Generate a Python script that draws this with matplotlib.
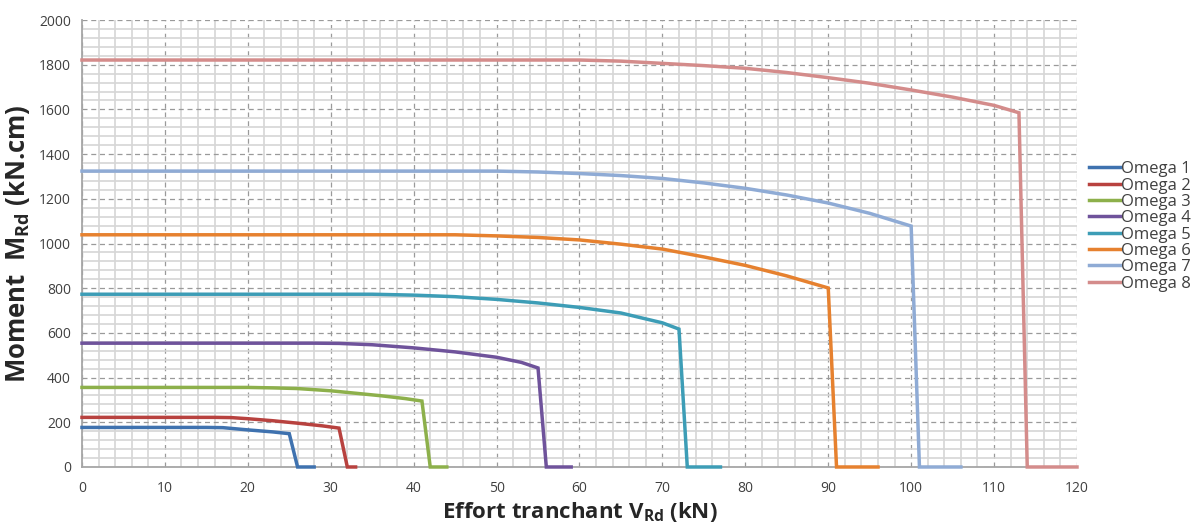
import matplotlib.pyplot as plt
from matplotlib.ticker import MultipleLocator

plt.rcParams['font.family'] = ['Open Sans', 'DejaVu Sans']
plt.rcParams['mathtext.fontset'] = 'custom'
plt.rcParams['mathtext.rm'] = 'Open Sans'
plt.rcParams['mathtext.bf'] = 'Open Sans:bold'

# effort tranchant V (kN) / moment M (kN.cm)
v1 = [0, 15, 17, 20, 23, 25, 26, 28]
m1 = [177, 177, 176, 166, 157, 149, 0, 0]

v2 = [0, 16, 18, 20, 23, 26, 29, 31, 32, 33]
m2 = [222, 222, 221, 216, 207, 196, 184, 174, 0, 0]

v3 = [0, 20, 23, 26, 30, 33, 36, 39, 41, 42, 44]
m3 = [356, 356, 354, 351, 341, 330, 319, 306, 295, 0, 0]

v4 = [0, 28, 31, 35, 40, 45, 50, 53, 55, 56, 59]
m4 = [554, 554, 553, 547, 533, 515, 491, 468, 443, 0, 0]

v5 = [0, 35, 40, 45, 50, 55, 60, 65, 70, 72, 73, 77]
m5 = [773, 773, 769, 762, 750, 734, 714, 689, 645, 617, 0, 0]

v6 = [0, 45, 50, 55, 60, 65, 70, 75, 80, 85, 90, 91, 96]
m6 = [1039, 1039, 1034, 1027, 1016, 997, 975, 940, 902, 855, 801, 0, 0]

v7 = [0, 50, 55, 60, 65, 70, 75, 80, 85, 90, 95, 100, 101, 106]
m7 = [1324, 1324, 1320, 1313, 1304, 1291, 1271, 1247, 1217, 1181, 1135, 1078, 0, 0]

v8 = [0, 60, 65, 70, 75, 80, 85, 90, 95, 100, 105, 110, 113, 114, 120]
m8 = [1821, 1821, 1816, 1806, 1796, 1784, 1765, 1742, 1717, 1687, 1655, 1618, 1585, 0, 0]

series = [v1, v2, v3, v4, v5, v6, v7, v8]
values = [m1, m2, m3, m4, m5, m6, m7, m8]
names = ['Omega 1', 'Omega 2', 'Omega 3', 'Omega 4',
         'Omega 5', 'Omega 6', 'Omega 7', 'Omega 8']
colors = ['#3F72AF', '#B8423F', '#8DB04B', '#6F539B',
          '#3D9DB6', '#E6812F', '#8FABD5', '#D48C8B']

fig = plt.figure(figsize=(12.02, 5.24), dpi=100)
ax = fig.add_axes([0.0682, 0.1088, 0.8278, 0.853])

for v, m, name, c in zip(series, values, names, colors):
    ax.plot(v, m, color=c, linewidth=2.5, label=name,
            solid_joinstyle='miter', clip_on=False, zorder=5)

ax.set_xlim(0, 120)
ax.set_ylim(0, 2000)
ax.xaxis.set_major_locator(MultipleLocator(10))
ax.xaxis.set_minor_locator(MultipleLocator(2))
ax.yaxis.set_major_locator(MultipleLocator(200))
ax.yaxis.set_minor_locator(MultipleLocator(40))

# grid: solid light minor lines, dashed major lines
ax.grid(which='minor', color='#D6D6D6', linewidth=1.2, linestyle='-')
ax.grid(which='major', color='#9A9A9A', linewidth=0.9, linestyle=(0, (4, 3)))
ax.set_axisbelow(True)

for s in ['top', 'right']:
    ax.spines[s].set_visible(False)
for s in ['left', 'bottom']:
    ax.spines[s].set_color('#A6A6A6')
    ax.spines[s].set_linewidth(1.3)
    ax.spines[s].set_zorder(2)

ax.tick_params(which='both', length=0, labelsize=10, colors='#404040', pad=8)
ax.tick_params(axis='x', pad=10)

ax.set_xlabel(r'Effort tranchant V$_{\mathbf{Rd}}$ (kN)', fontsize=16,
              fontweight='bold', color='#262626', labelpad=3)
ax.set_ylabel(r'Moment  M$_{\mathbf{Rd}}$ (kN.cm)', fontsize=18.5,
              fontweight='bold', color='#262626', labelpad=5)

leg = ax.legend(loc='upper left', bbox_to_anchor=(1.0, 0.71), frameon=False,
                fontsize=12, handlelength=1.9, handletextpad=0.05,
                labelspacing=0.02, borderaxespad=0.3)
for t in leg.get_texts():
    t.set_color('#404040')

fig.savefig('out.png', dpi=100)
